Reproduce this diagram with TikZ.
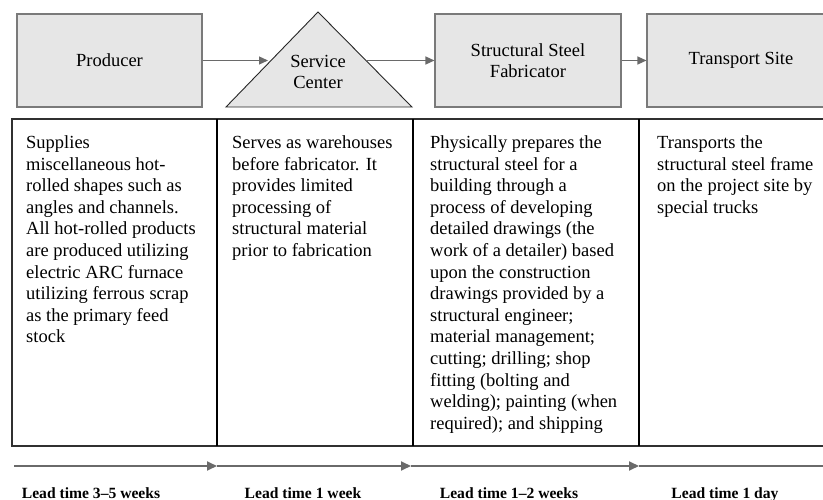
\documentclass[tikz,border=0pt]{standalone}
\usepackage{fontspec}
\setmainfont{Liberation Serif}
\usetikzlibrary{arrows.meta}
\definecolor{boxfill}{HTML}{E6E6E6}
\definecolor{boxline}{HTML}{7A7A7A}
\definecolor{flow}{HTML}{6A6A6A}
\definecolor{frame}{HTML}{303030}
\begin{document}
\begin{tikzpicture}[x=1pt,y=-1pt,
  stage/.style={draw=boxline, fill=boxfill, line width=1.1pt,
    minimum width=185pt, minimum height=93pt, inner sep=0pt,
    font=\fontsize{18.5}{21.6}\selectfont, align=center},
  flowarrow/.style={draw=flow, line width=1.3pt, -{Triangle[length=9pt,width=8pt]}},
  timeline/.style={draw=flow, line width=1.8pt, -{Triangle[length=10pt,width=9pt]}},
  desc/.style={anchor=north west, inner sep=0pt, align=left,
    font=\fontsize{18.5}{21.6}\selectfont},
  lead/.style={anchor=base, inner sep=0pt,
    font=\bfseries\fontsize{15.6}{18}\selectfont}]
\useasboundingbox (0,0) rectangle (823,500);
\clip (0,0) rectangle (823,500);
\fill[white] (0,0) rectangle (823,500);

% supply chain stages
\node[stage] (prod) at (109.5,60.5) {Producer};
\filldraw[fill=boxfill, draw=black!85, line width=0.9pt]
  (226,107) -- (318,12) -- (412,107) -- cycle;
\node[inner sep=0pt, align=center, font=\fontsize{18.5}{21}\selectfont]
  (sc) at (318,72) {Service\\Center};
\coordinate (scin) at (268,60.5);
\coordinate (scout) at (366,60.5);
\node[stage, minimum width=186pt] (fab) at (528,60.5) {Structural Steel\\Fabricator};
\node[stage, minimum width=188pt] (trans) at (741,60.5) {Transport Site};

\draw[flowarrow] (prod.east) -- (scin);
\draw[flowarrow] (scout) -- (fab.west);
\draw[flowarrow] (fab.east) -- (trans.west);

% description table
\draw[frame, line width=2.2pt] (12,119) rectangle (835,446);
\draw[black, line width=1.4pt] (217,119) -- (217,446);
\draw[black, line width=1.4pt] (413,119) -- (413,446);
\draw[black, line width=1.4pt] (639,119) -- (639,446);

\node[desc] (d1) at (26,135.5) {Supplies\\miscellaneous hot-\\rolled shapes such as\\angles and channels.\\All hot-rolled products\\are produced utilizing\\electric ARC furnace\\utilizing ferrous scrap\\as the primary feed\\stock};
\node[desc] (d2) at (232,135.5) {Serves as warehouses\\before fabricator. It\\provides limited\\processing of\\structural material\\prior to fabrication};
\node[desc] (d3) at (430,135.5) {Physically prepares the\\structural steel for a\\building through a\\process of developing\\detailed drawings (the\\work of a detailer) based\\upon the construction\\drawings provided by a\\structural engineer;\\material management;\\cutting; drilling; shop\\fitting (bolting and\\welding); painting (when\\required); and shipping};
\node[desc] (d4) at (657,135.5) {Transports the\\structural steel frame\\on the project site by\\special trucks};

% lead time axis
\coordinate (t0) at (14,466);
\coordinate (t1) at (217,466);
\coordinate (t2) at (411,466);
\coordinate (t3) at (639,466);
\coordinate (t4) at (835,466);
\draw[timeline] (t0) -- (t1);
\draw[timeline] (t1) -- (t2);
\draw[timeline] (t2) -- (t3);
\draw[draw=flow, line width=1.8pt] (t3) -- (t4);

\node[lead] (l1) at (91,498) {Lead time 3–5 weeks};
\node[lead] (l2) at (303,498) {Lead time 1 week};
\node[lead] (l3) at (509,498) {Lead time 1–2 weeks};
\node[lead] (l4) at (725,498) {Lead time 1 day};
\end{tikzpicture}
\end{document}
